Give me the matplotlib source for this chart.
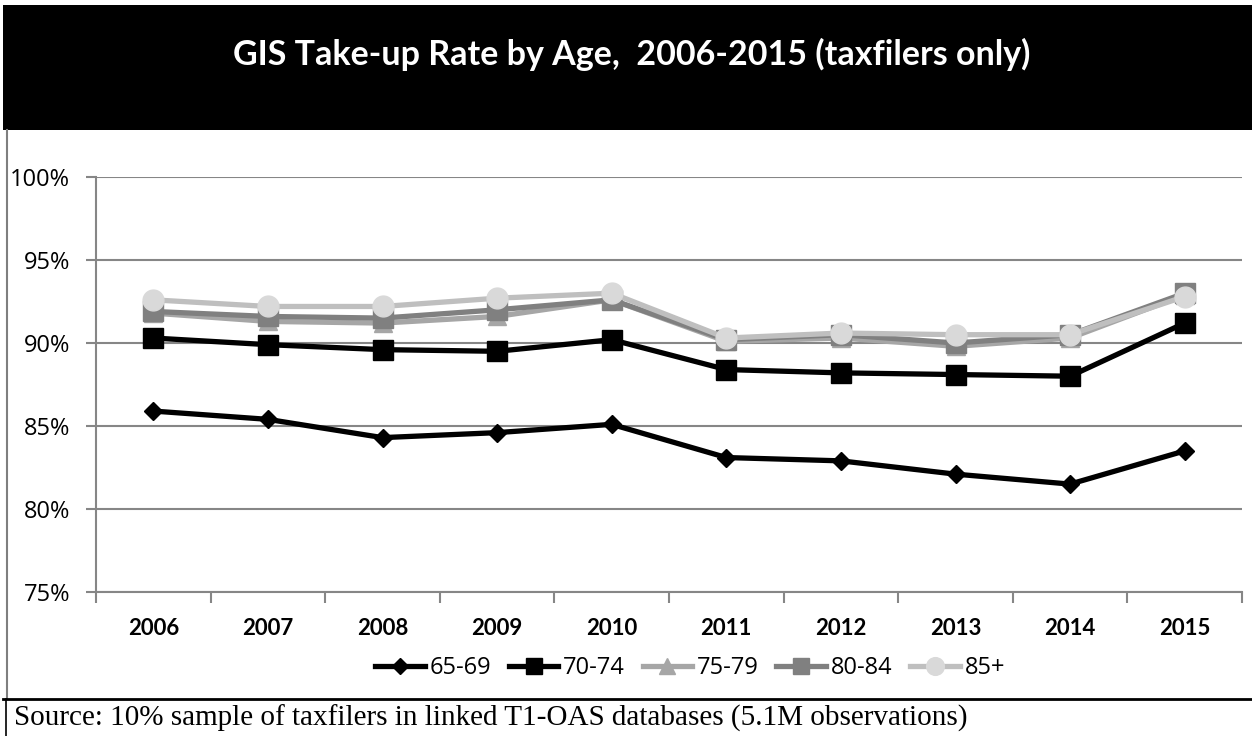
import numpy as np
import matplotlib
matplotlib.use("Agg")
import matplotlib.pyplot as plt
from matplotlib.patches import Rectangle
from matplotlib.lines import Line2D

years = ['2006', '2007', '2008', '2009', '2010', '2011', '2012', '2013', '2014', '2015']
age_65_69 = [85.9, 85.4, 84.3, 84.6, 85.1, 83.1, 82.9, 82.1, 81.5, 83.5]
age_70_74 = [90.3, 89.9, 89.6, 89.5, 90.2, 88.4, 88.2, 88.1, 88.0, 91.2]
age_75_79 = [91.8, 91.3, 91.2, 91.6, 92.6, 90.1, 90.3, 89.8, 90.3, 92.9]
age_80_84 = [91.9, 91.6, 91.5, 92.0, 92.6, 90.2, 90.5, 90.0, 90.5, 93.0]
age_85_up = [92.6, 92.2, 92.2, 92.7, 93.0, 90.3, 90.6, 90.5, 90.5, 92.8]

fig = plt.figure(figsize=(12.52, 7.36), dpi=100)
W, H = 1252, 736

# black title band
fig.patches.append(Rectangle((3 / W, 1 - 130 / H), 1 - 3 / W, 125 / H, transform=fig.transFigure,
                             facecolor='black', edgecolor='none'))
fig.text(632 / W, 1 - 54 / H, 'GIS Take-up Rate by Age,  2006-2015 (taxfilers only)',
         color='white', fontsize=24.5, fontweight='bold', family='Lato', ha='center', va='center')

# frame lines
fig.add_artist(Line2D([7 / W, 7 / W], [1 - 130 / H, 1 - 699 / H], transform=fig.transFigure,
                      color='#7f7f7f', lw=1.5))
fig.add_artist(Line2D([3 / W, 1], [1 - 699 / H, 1 - 699 / H], transform=fig.transFigure,
                      color='black', lw=2))
fig.add_artist(Line2D([6 / W, 6 / W], [0, 1 - 699 / H], transform=fig.transFigure,
                      color='black', lw=1.2))
fig.text(14 / W, 1 - 718 / H, 'Source: 10% sample of taxfilers in linked T1-OAS databases (5.1M observations)',
         family='Liberation Serif', fontsize=21, ha='left', va='center')

ax = fig.add_axes([96 / W, 1 - 592 / H, (1242 - 96) / W, (592 - 177) / H])
x = np.arange(len(years))
series = [
    ('65-69', age_65_69, 'black', 'black', 'D', 9.5),
    ('70-74', age_70_74, 'black', 'black', 's', 14),
    ('75-79', age_75_79, '#a6a6a6', '#a6a6a6', '^', 13),
    ('80-84', age_80_84, '#808080', '#808080', 's', 14),
    ('85+', age_85_up, '#bfbfbf', '#d9d9d9', 'o', 15),
]
for name, vals, lc, mc, mk, ms in series:
    ax.plot(x, vals, color=lc, lw=3.8, marker=mk, markersize=ms, markerfacecolor=mc,
            markeredgecolor=mc, label=name, zorder=3)

ax.set_xlim(-0.5, 9.5)
ax.set_ylim(75, 100)
ax.set_yticks([75, 80, 85, 90, 95, 100])
ax.set_yticklabels(['75%', '80%', '85%', '90%', '95%', '100%'], family='Open Sans', fontsize=17)
ax.set_xticks(x)
ax.set_xticklabels(years, family='Lato', fontweight='bold', fontsize=16)
ax.set_xticks(np.arange(-0.5, 10, 1), minor=True)
ax.tick_params(axis='x', which='major', length=0, pad=19)
ax.tick_params(axis='x', which='minor', length=8, color='#868686', width=1.5)
ax.tick_params(axis='y', length=7.2, color='#868686', width=1.5, pad=11.5)
ax.grid(axis='y', color='#868686', lw=1.5)
ax.set_axisbelow(True)
for s in ['top', 'right']:
    ax.spines[s].set_visible(False)
for s in ['left', 'bottom']:
    ax.spines[s].set_color('#868686')
    ax.spines[s].set_linewidth(1.5)

leg = fig.legend(loc='center', bbox_to_anchor=(690 / W, 1 - 668 / H), ncol=5, frameon=False,
                 prop={'family': 'Open Sans', 'size': 17}, handlelength=2.1, handletextpad=0.2,
                 columnspacing=0.75, markerscale=0.85, borderpad=0)

fig.savefig('out.png', dpi=100)
